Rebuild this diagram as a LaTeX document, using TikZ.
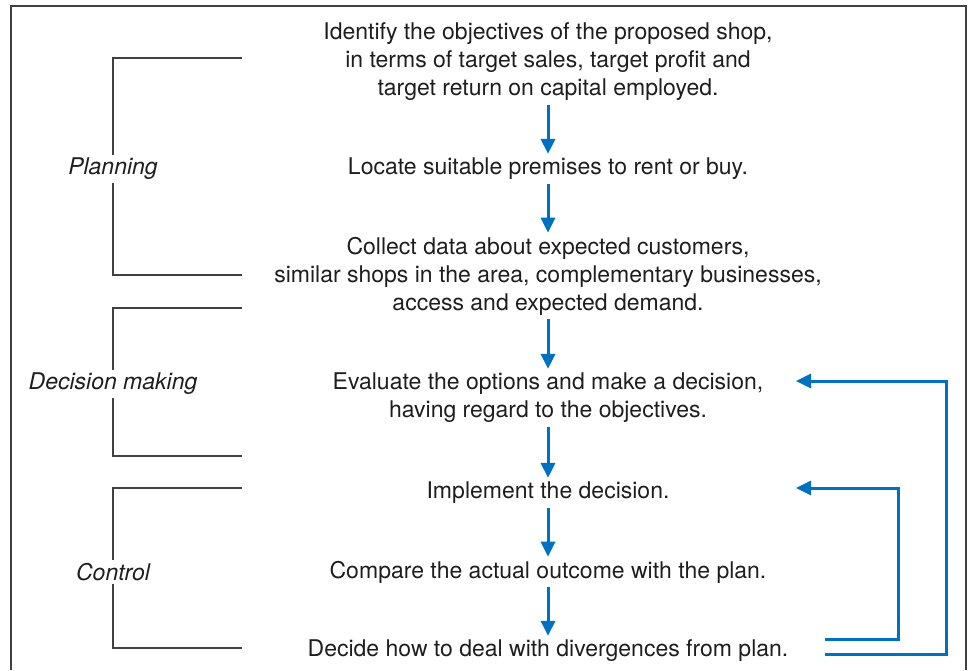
\documentclass[tikz,border=0pt]{standalone}
\usepackage{fontspec}
\setmainfont{TeX Gyre Heros}
\usetikzlibrary{arrows.meta}
\definecolor{flowblue}{RGB}{0,112,192}
\definecolor{inkgrey}{RGB}{30,30,30}

\begin{document}
\begin{tikzpicture}[x=1pt,y=-1pt,
    stage/.style={align=center,text=inkgrey,inner sep=4pt,
      font=\fontsize{23}{28}\selectfont},
    phase/.style={text=inkgrey,inner sep=3pt,
      font=\fontsize{23}{26}\selectfont\itshape},
    bracket/.style={draw=inkgrey!85,line width=1.6pt},
    down/.style={draw=flowblue,line width=3pt,
      -{Triangle[length=15pt,width=14pt]}},
    back/.style={draw=flowblue,line width=3pt,
      -{Triangle[length=15pt,width=14pt]}}]
    \useasboundingbox (0,0) rectangle (971,670);
    \draw[draw=inkgrey!85,line width=1.8pt] (11,670) -- (11,6) -- (966,6) -- (966,670);

    % the stages
    \node[stage] (obj) at (548,62) {Identify the objectives of the proposed shop,\\
        in terms of target sales, target profit and\\
        target return on capital employed.};
    \node[stage] (premises) at (548,169) {Locate suitable premises to rent or buy.};
    \node[stage] (data) at (548,276) {Collect data about expected customers,\\
        similar shops in the area, complementary businesses,\\
        access and expected demand.};
    \node[stage] (evaluate) at (548,398) {Evaluate the options and make a decision,\\
        having regard to the objectives.};
    \node[stage] (implement) at (548,493) {Implement the decision.};
    \node[stage] (compare) at (548,572) {Compare the actual outcome with the plan.};
    \node[stage] (decide) at (548,651) {Decide how to deal with divergences from plan.};

    \draw[down] (obj) -- (premises);
    \draw[down] (premises) -- (data);
    \draw[down] (data) -- (evaluate);
    \draw[down] (evaluate) -- (implement);
    \draw[down] (implement) -- (compare);
    \draw[down] (compare) -- (decide);

    % feedback loops
    \coordinate (innerstart) at (825,639);
    \coordinate (outerstart) at (825,654);
    \coordinate (impltip) at (796,488);
    \coordinate (evaltip) at (796,381);
    \draw[back] (innerstart) -- ++(73,0) |- (impltip);
    \draw[back] (outerstart) -- ++(121,0) |- (evaltip);

    % phases on the left
    \node[phase] (planning) at (113,169) {Planning};
    \node[phase] (decision) at (113,384) {Decision making};
    \node[phase] (control) at (113,572) {Control};
    \coordinate (plantop) at (242,58);
    \coordinate (planbot) at (242,275);
    \coordinate (dectop) at (242,308);
    \coordinate (decbot) at (242,456);
    \coordinate (ctrltop) at (242,488);
    \coordinate (ctrlbot) at (242,648);
    \draw[bracket] (plantop) -| (planning);
    \draw[bracket] (planning) |- (planbot);
    \draw[bracket] (dectop) -| (decision);
    \draw[bracket] (decision) |- (decbot);
    \draw[bracket] (ctrltop) -| (control);
    \draw[bracket] (control) |- (ctrlbot);
\end{tikzpicture}
\end{document}
